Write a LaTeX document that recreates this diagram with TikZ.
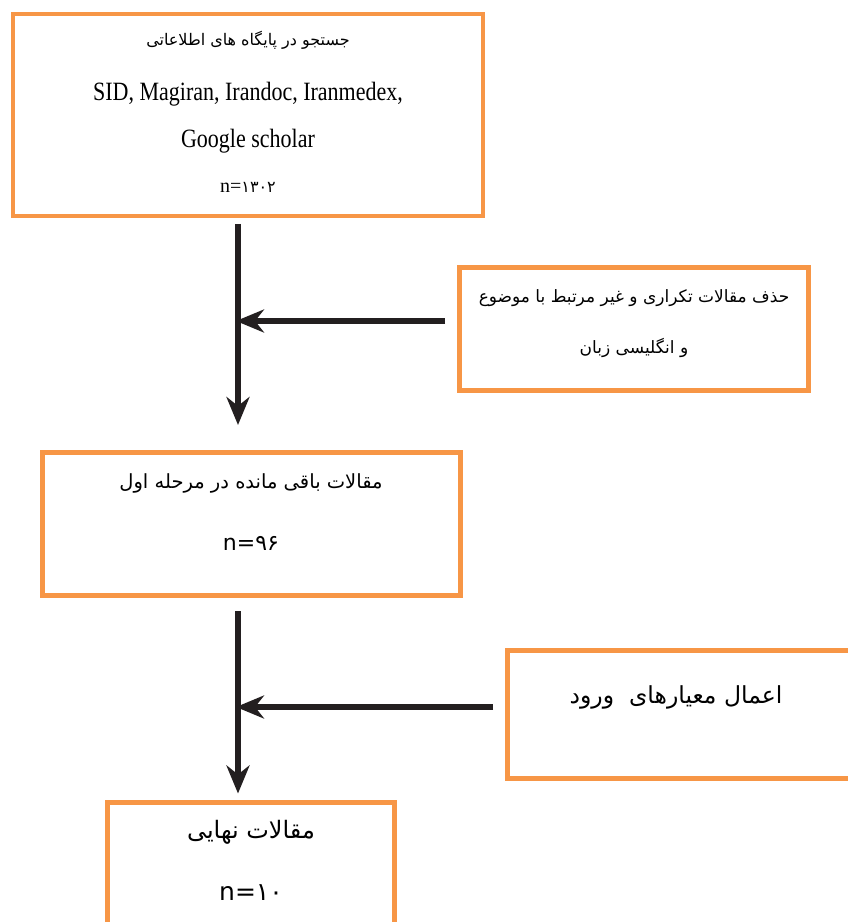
\documentclass[tikz,border=0pt]{standalone}
\usepackage{fontspec}
\setmainfont{Liberation Serif}
\newfontfamily\farsi[Script=Arabic]{DejaVu Sans}
\TeXXeTstate=1
\usetikzlibrary{arrows.meta}
\definecolor{boxorange}{HTML}{F79646}
\definecolor{arrowblack}{HTML}{231F20}
\newcommand{\fasize}[1]{\farsi\fontsize{#1}{#1}\selectfont}
\newcommand{\tallline}[1]{\scalebox{1}[1.2]{#1}}
\tikzset{
  stagebox/.style={draw=boxorange, line width=5pt, inner sep=0pt},
  latext/.style={font=\fontsize{22}{26}\selectfont},
  flow/.style={draw=arrowblack, line width=5.5pt, -{Stealth[length=28pt,width=23pt,inset=9pt]}}
}

\begin{document}
\begin{tikzpicture}[x=1pt, y=-1pt]
	  \useasboundingbox (0,0) rectangle (847,922);
	  % boxes
	  \node[stagebox, line width=3.5pt, minimum width=470pt, minimum height=202pt] (search) at (248,115) {};
	  \node[stagebox, minimum width=349pt, minimum height=123pt] (remove) at (634,329) {};
	  \node[stagebox, minimum width=418pt, minimum height=143pt] (first) at (251.5,524) {};
	  \node[stagebox, minimum width=360pt, minimum height=128pt] (entry) at (687.5,714.5) {};
	  \node[stagebox, minimum width=287pt, minimum height=156pt] (final) at (251,880) {};
	  % texts
	  \node[font=\fasize{16}] (searchfa) at (248,40) {\beginR جستجو در پایگاه های اطلاعاتی\endR};
	  \node[latext] (dbline) at (248,94) {\tallline{SID, Magiran, Irandoc, Iranmedex,}};
	  \node[latext] (scholar) at (248,141) {\tallline{Google scholar}};
	  \node[font=\fontsize{20}{22}\selectfont] (searchn) at (248,187) {n={\fasize{16}۱۳۰۲}};
	  \node[font=\fasize{17}] (removea) at (634,298) {\beginR حذف مقالات تکراری و غیر مرتبط با موضوع\endR};
	  \node[font=\fasize{17}] (removeb) at (634,348) {\beginR و انگلیسی زبان\endR};
	  \node[font=\fasize{19.5}] (firstfa) at (251,483) {\beginR مقالات باقی مانده در مرحله اول\endR};
	  \node[font=\fasize{22}] (firstn) at (251,543) {n=۹۶};
	  \node[font=\fasize{23.5}] (entryfa) at (676,697) {\beginR اعمال معیارهای~~ورود\endR};
	  \node[font=\fasize{24}] (finalfa) at (251,832) {\beginR مقالات نهایی\endR};
	  \node[font=\fasize{25}] (finaln) at (251,893) {n=۱۰};
	  % arrows
	  \coordinate (join1) at (238,321);
	  \coordinate (join2) at (238,707);
	  \draw[flow, shorten <=6pt, shorten >=25pt] (search.south -| join1) -- (first.north -| join1);
	  \draw[flow, shorten <=12pt, shorten >=-2pt] (join1 -| remove.west) -- (join1);
	  \draw[flow, shorten <=13pt, shorten >=6pt] (first.south -| join2) -- (final.north -| join2);
	  \draw[flow, shorten <=12pt, shorten >=-2pt] (join2 -| entry.west) -- (join2);
	\end{tikzpicture}
\end{document}
